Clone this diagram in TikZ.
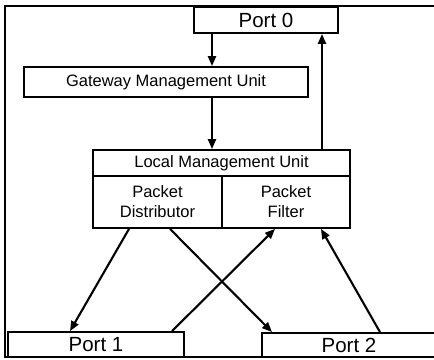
\documentclass[tikz,border=0pt]{standalone}
\usepackage{fontspec}
\setmainfont{Liberation Sans}
\usetikzlibrary{arrows.meta,calc}
\begin{document}
\begin{tikzpicture}[x=1pt,y=-1pt,
  box/.style={draw,line width=1.8pt,rectangle,inner sep=0pt,anchor=center,font=\fontsize{16.5}{20}\selectfont,align=center},
  portbox/.style={box,font=\fontsize{20.5}{22}\selectfont},
  arr/.style={line width=2.1pt,-{Triangle[length=10pt,width=8pt]}}]
\useasboundingbox (0,0) rectangle (434,359);
\clip (0,0) rectangle (434,359);
\draw[line width=1.6pt] (440,6) -- (5,6) -- (5,357) -- (440,357);
\node[portbox,minimum width=144pt,minimum height=26pt] (port0) at (266,20) {Port 0};
\node[box,minimum width=284pt,minimum height=30pt] (gmu) at (166,82) {Gateway Management Unit};
\node[box,minimum width=257pt,minimum height=26pt] (lmu) at (221.5,163) {Local Management Unit};
\node[box,minimum width=129pt,minimum height=52pt] (pd) at (157.5,202) {Packet\\Distributor};
\node[box,minimum width=128pt,minimum height=52pt] (pf) at (286,202) {Packet\\Filter};
\node[portbox,minimum width=176pt,minimum height=25pt] (port1) at (96,344.5) {Port 1};
\node[portbox,minimum width=174pt,minimum height=24pt] (port2) at (349,345) {Port 2};
\draw[arr] (212,0 |- port0.south) -- (212,0 |- gmu.north);
\draw[arr] (212,0 |- gmu.south) -- (212,0 |- lmu.north);
\draw[arr] (322,0 |- lmu.north) -- (322,0 |- port0.south);
\draw[arr] (129,0 |- pd.south) -- (70,0 |- port1.north);
\draw[arr] (170,0 |- pd.south) -- (272,0 |- port2.north);
\draw[arr] (172,0 |- port1.north) -- (275,0 |- pf.south);
\draw[arr] (380,0 |- port2.north) -- (321,0 |- pf.south);
\end{tikzpicture}
\end{document}
